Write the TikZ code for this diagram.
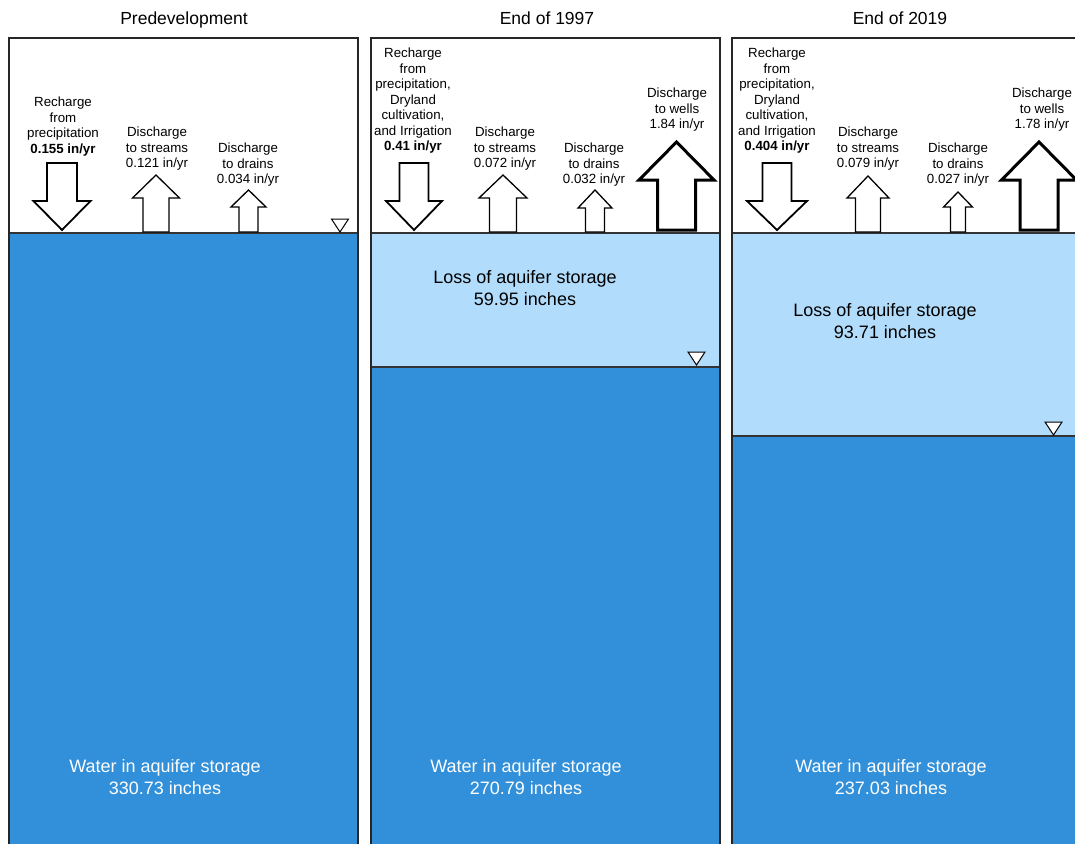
\documentclass[tikz,border=0pt]{standalone}
\usepackage{fontspec}
\setmainfont{Liberation Sans}
\usetikzlibrary{positioning}
\definecolor{aquiferblue}{RGB}{49,144,217}
\definecolor{lossblue}{RGB}{177,220,251}
\begin{document}
\begin{tikzpicture}[x=1pt, y=-1pt,
	panel/.style={draw=black!85, line width=1.3pt},
	level/.style={draw=black!80, line width=1.3pt},
	flux/.style={draw=black, fill=white, line width=1.3pt, line join=miter},
	recharge/.style={flux, line width=1.8pt},
	wellflux/.style={flux, line width=3pt},
	lbl/.style={align=center, anchor=north, inner sep=0pt, font=\fontsize{13.3}{15.5}\selectfont},
	big/.style={align=center, anchor=north, inner sep=0pt, font=\fontsize{18}{22.5}\selectfont},
	ttl/.style={anchor=base, inner sep=0pt, font=\fontsize{17.5}{20}\selectfont},
	wt/.style={draw=black, fill=white, line width=1pt, line join=miter}]
	\clip (0,0) rectangle (1075,843);
	\fill[white] (0,0) rectangle (1075,843);

	% panels
	\fill[aquiferblue] (9,233) rectangle (358,860);
	\fill[lossblue] (371,233) rectangle (720,367);
	\fill[aquiferblue] (371,367) rectangle (720,860);
	\fill[lossblue] (732,233) rectangle (1095,436);
	\fill[aquiferblue] (732,436) rectangle (1095,860);
	\draw[level] (9,233) -- (358,233);
	\draw[level] (371,233) -- (720,233);
	\draw[level] (371,367) -- (720,367);
	\draw[level] (732,233) -- (1095,233);
	\draw[level] (732,436) -- (1095,436);
	\draw[panel] (9,860) -- (9,38) -- (358,38) -- (358,860);
	\draw[panel] (371,860) -- (371,38) -- (720,38) -- (720,860);
	\draw[panel] (732,860) -- (732,38) -- (1095,38) -- (1095,860);

	% titles
	\node[ttl] (t1) at (184,25) {Predevelopment};
	\node[ttl] (t2) at (547,25) {End of 1997};
	\node[ttl] (t3) at (900,25) {End of 2019};

	% recharge arrows
	\foreach \cx/\sw/\hw in {62/15/28.5, 414/14.5/28, 777/14.5/30}
		\draw[recharge] ({\cx-\sw},163) -- ({\cx+\sw},163) -- ({\cx+\sw},201) -- ({\cx+\hw},201)
			-- (\cx,230) -- ({\cx-\hw},201) -- ({\cx-\sw},201) -- cycle;

	% discharge arrows
	\foreach \cx/\tp/\hb/\hw/\sw in {156/175/198/23.5/13, 248.5/190/207/17.5/9.5,
		503/175/198/24/13.5, 595/190/208/17/9.5, 868/176/198/21/12.5, 958/192/207/14.5/7.5}
		\draw[flux] ({\cx-\sw},232) -- ({\cx-\sw},\hb) -- ({\cx-\hw},\hb) -- (\cx,\tp)
			-- ({\cx+\hw},\hb) -- ({\cx+\sw},\hb) -- ({\cx+\sw},232) -- cycle;
	\foreach \cx in {676.5, 1039}
		\draw[wellflux] ({\cx-19},230) -- ({\cx-19},180) -- ({\cx-37.5},180) -- (\cx,142)
			-- ({\cx+37.5},180) -- ({\cx+19},180) -- ({\cx+19},230) -- cycle;

	% water table marks
	\foreach \cx/\lv in {340/219, 696.5/352, 1053.5/422}
		\draw[wt] ({\cx-8.5},\lv) -- ({\cx+8.5},\lv) -- (\cx,{\lv+13}) -- cycle;

	% labels, predevelopment
	\node[lbl] (r1) at (63,97) {Recharge\\from\\precipitation\\\textbf{0.155 in/yr}};
	\node[lbl] (s1) at (157,127) {Discharge\\to streams\\0.121 in/yr};
	\node[lbl] (d1) at (248,143) {Discharge\\to drains\\0.034 in/yr};
	\node[big, text=white] (w1) at (165,759) {Water in aquifer storage\\330.73 inches};

	% labels, 1997
	\node[lbl] (r2) at (413,48) {Recharge\\from\\precipitation,\\Dryland\\cultivation,\\and Irrigation\\\textbf{0.41 in/yr}};
	\node[lbl] (s2) at (505,127) {Discharge\\to streams\\0.072 in/yr};
	\node[lbl] (d2) at (594,143) {Discharge\\to drains\\0.032 in/yr};
	\node[lbl] (q2) at (677,88) {Discharge\\to wells\\1.84 in/yr};
	\node[big] (l2) at (525,270) {Loss of aquifer storage\\59.95 inches};
	\node[big, text=white] (w2) at (526,759) {Water in aquifer storage\\270.79 inches};

	% labels, 2019
	\node[lbl] (r3) at (777,48) {Recharge\\from\\precipitation,\\Dryland\\cultivation,\\and Irrigation\\\textbf{0.404 in/yr}};
	\node[lbl] (s3) at (868,127) {Discharge\\to streams\\0.079 in/yr};
	\node[lbl] (d3) at (958,143) {Discharge\\to drains\\0.027 in/yr};
	\node[lbl] (q3) at (1042,88) {Discharge\\to wells\\1.78 in/yr};
	\node[big] (l3) at (885,303) {Loss of aquifer storage\\93.71 inches};
	\node[big, text=white] (w3) at (891,759) {Water in aquifer storage\\237.03 inches};
\end{tikzpicture}
\end{document}
